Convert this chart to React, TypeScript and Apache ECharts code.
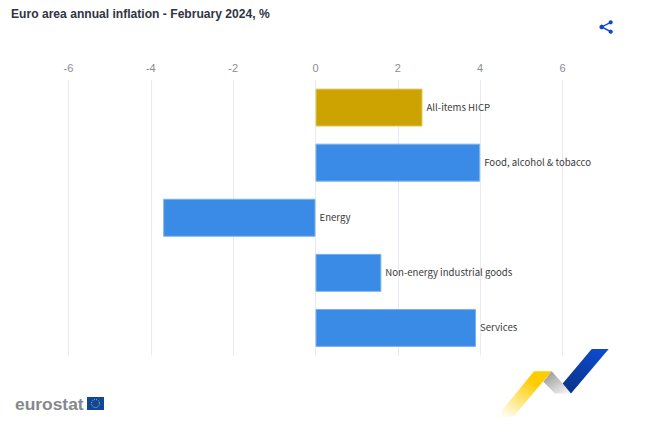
import React, { useEffect, useRef } from "react";
import * as echarts from "echarts";

const categories = ["All-items HICP", "Food, alcohol & tobacco", "Energy", "Non-energy industrial goods", "Services"];
const values = [2.6, 4.0, -3.7, 1.6, 3.9];
const highlightCategory = "All-items HICP";
const titleText = "Euro area annual inflation - February 2024, %";

export default function App() {
  const ref = useRef<HTMLDivElement>(null);
  useEffect(() => {
    const chart = echarts.init(ref.current!, undefined, { renderer: "svg", width: 670, height: 439 });
    const grad = (x: number, y: number, x2: number, y2: number, a: string, b: string) =>
      new echarts.graphic.LinearGradient(x, y, x2, y2, [
        { offset: 0, color: a },
        { offset: 1, color: b },
      ]);
    chart.setOption({
      animation: false,
      backgroundColor: "#ffffff",
      title: {
        text: titleText,
        left: 11,
        top: 8,
        padding: 0,
        textStyle: { fontFamily: "Liberation Sans", fontSize: 12.1, fontWeight: "bold", color: "#2f3542" },
      },
      grid: { left: 68.5, right: 107.5, top: 80, bottom: 83.5, containLabel: false },
      xAxis: {
        type: "value",
        position: "top",
        min: -6,
        max: 6,
        interval: 2,
        axisLine: { show: false },
        axisTick: { show: false },
        axisLabel: { margin: 7, fontFamily: "Liberation Sans", fontSize: 11, color: "#8a8d94" },
        splitLine: { show: true, lineStyle: { color: "#e8eaf4", width: 1 } },
      },
      yAxis: {
        type: "category",
        inverse: true,
        data: categories,
        axisLine: { show: false },
        axisTick: { show: false },
        axisLabel: { show: false },
        splitLine: { show: false },
      },
      series: [
        {
          type: "bar",
          barWidth: 38,
          data: values.map((v, i) => {
            const hi = categories[i] === highlightCategory;
            return {
              value: v,
              itemStyle: {
                color: hi ? "#cca300" : "#3a8be6",
                borderColor: hi ? "#e2cc66" : "#7db2ee",
                borderWidth: 1,
              },
            };
          }),
          label: {
            show: true,
            position: "right",
            distance: 4,
            offset: [0, -1],
            formatter: (p: any) => p.name,
            fontFamily: "Noto Sans CJK SC",
            fontSize: 9.6,
            color: "#3a3a3a",
          },
        },
      ],
      graphic: [
        // share icon
        { type: "polyline", shape: { points: [[610.7, 22.3], [601.7, 26.9], [610.7, 31.7]] }, style: { stroke: "#0e47cb", lineWidth: 1.4, fill: "none" } },
        { type: "circle", shape: { cx: 601.7, cy: 26.9, r: 2.3 }, style: { fill: "#0e47cb" } },
        { type: "circle", shape: { cx: 610.7, cy: 22.3, r: 2.1 }, style: { fill: "#0e47cb" } },
        { type: "circle", shape: { cx: 610.7, cy: 31.7, r: 2.1 }, style: { fill: "#0e47cb" } },
        // ribbon logo
        { type: "polygon", shape: { points: [[534, 371.3], [551.7, 371.3], [513.3, 416.7], [496.7, 416.7]] }, style: { fill: grad(0.75, 0.3, 0.15, 1, "#ffcc00", "#fffdf2") } },
        { type: "polygon", shape: { points: [[551.7, 371.3], [571.5, 393.5], [555, 393.5], [543.3, 381.7]] }, style: { fill: grad(0.1, 0.1, 0.85, 1, "#9a9a9a", "#f4f4f4") } },
        { type: "polygon", shape: { points: [[591.7, 349], [608.7, 349], [571, 393.5], [562.7, 383.5]] }, style: { fill: grad(0.8, 0, 0.2, 1, "#0e4ad0", "#0a3488") } },
        // eurostat logo
        { type: "text", style: { x: 15, y: 403.5, text: "eurostat", fontFamily: "Liberation Sans", fontWeight: "bold", fontSize: 17.4, fill: "#85888e", textVerticalAlign: "middle" } },
        { type: "rect", shape: { x: 87, y: 397, width: 17, height: 13 }, style: { fill: "#0f479f" } },
        { type: "circle", shape: { cx: 95.5, cy: 403.5, r: 4 }, style: { fill: "none", stroke: "#d8c64a", lineWidth: 1, lineDash: [1, 1.1] } },
      ],
    });
    return () => chart.dispose();
  }, []);
  return <div ref={ref} style={{ position: "fixed", left: 0, top: 0, width: 670, height: 439 }} />;
}
